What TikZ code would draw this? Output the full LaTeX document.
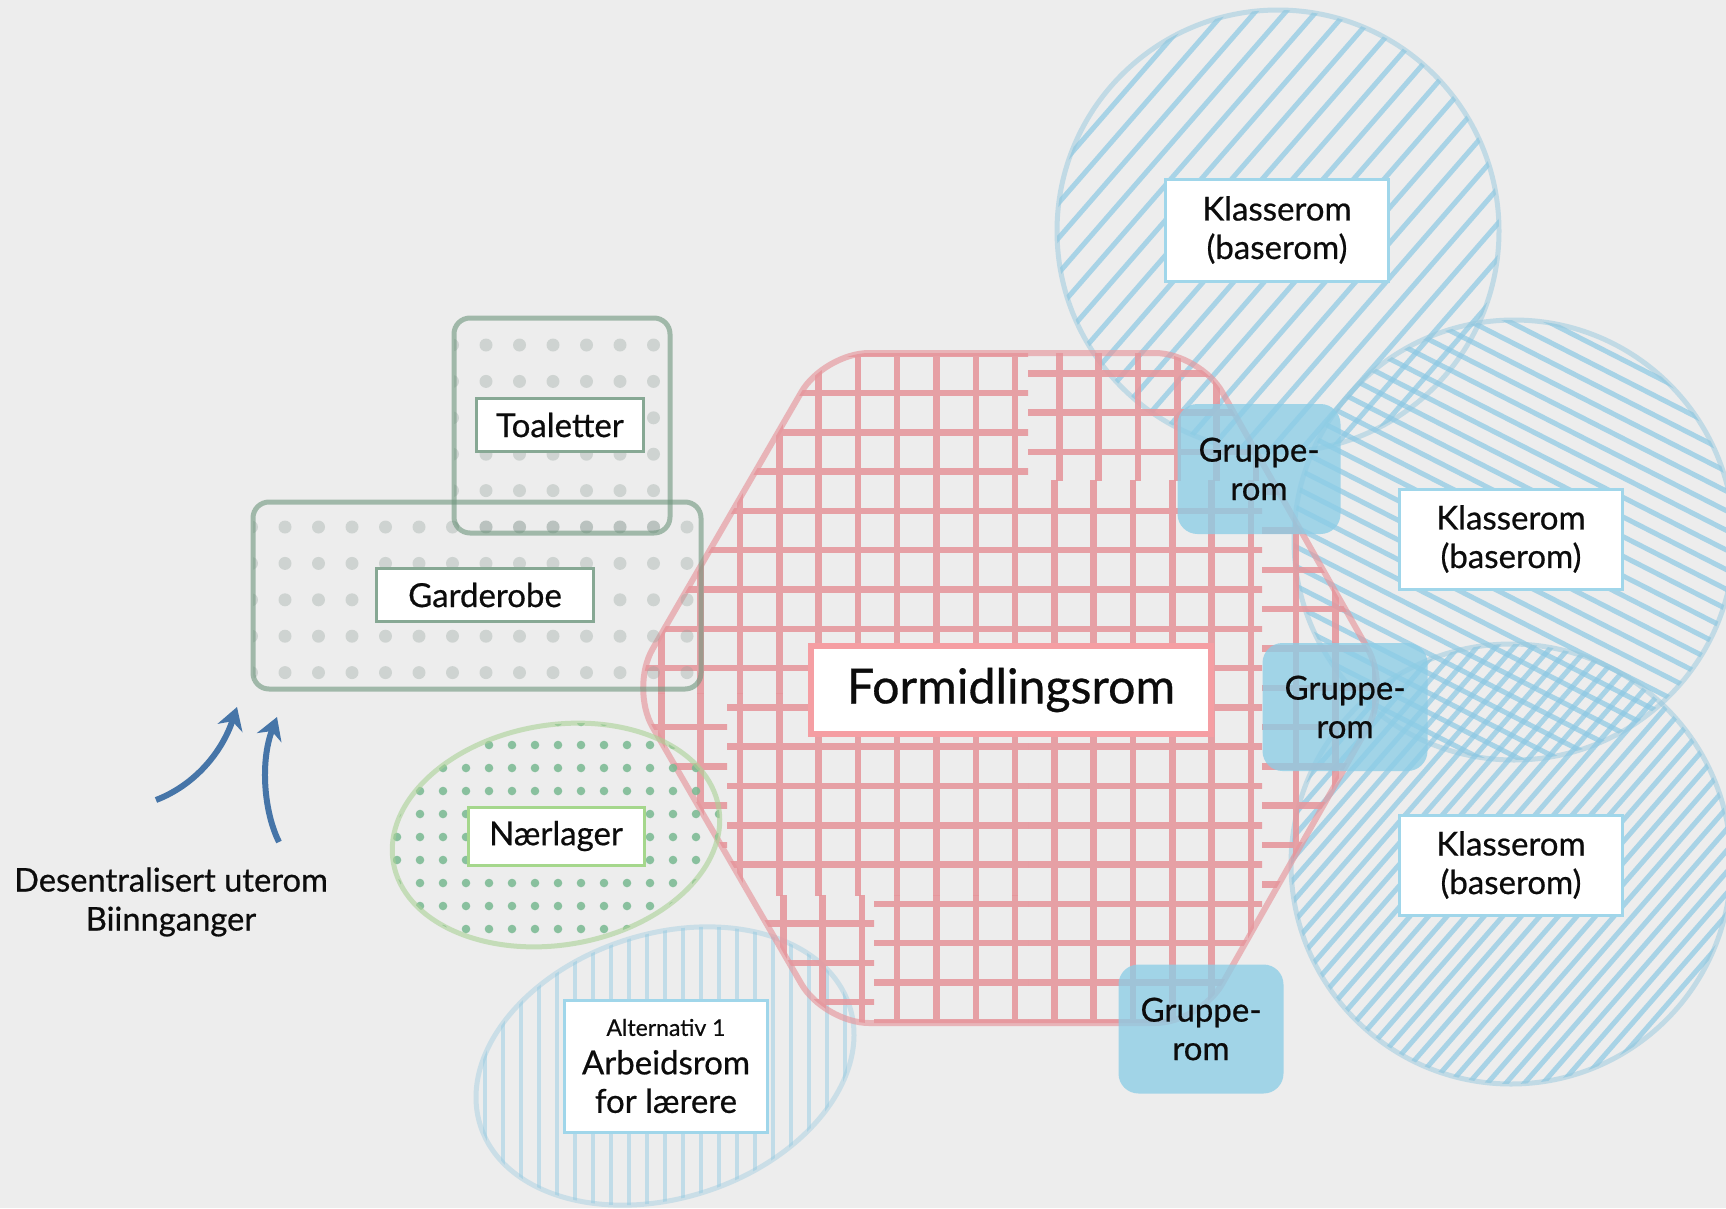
\documentclass[tikz,border=0pt]{standalone}
\usepackage{fontspec}
\setmainfont{Lato}
\newfontfamily\medfont{Lato}[FakeBold=0.6]
\usetikzlibrary{arrows.meta}

\definecolor{bg}{RGB}{237,237,237}
\definecolor{gridpink}{RGB}{230,150,156}
\definecolor{formedge}{RGB}{245,158,163}
\definecolor{hatchblue}{RGB}{140,200,228}
\definecolor{diskblue}{RGB}{150,200,222}
\definecolor{gruppefill}{RGB}{140,205,230}
\definecolor{lblblue}{RGB}{160,214,234}
\definecolor{boxgreen}{RGB}{110,150,125}
\definecolor{dotgray}{RGB}{150,165,158}
\definecolor{tlbl}{RGB}{135,168,148}
\definecolor{naergreen}{RGB}{170,210,150}
\definecolor{naerdot}{RGB}{120,185,145}
\definecolor{naerlbl}{RGB}{165,215,140}
\definecolor{arrowblue}{RGB}{70,117,168}
\definecolor{ink}{RGB}{12,12,12}

\newcommand\lblfont{\medfont\fontsize{33}{38.5}\selectfont}
\newcommand\formfont{\medfont\fontsize{48.3}{52}\selectfont}
\newcommand\altfont{\medfont\fontsize{23}{26}\selectfont}
\newcommand\descfont{\medfont\fontsize{32.7}{39}\selectfont}

% hatched disc: centre x, centre y, radius, hatch angle, hatch spacing
\newcommand\hatchdisk[5]{%
  \begin{scope}
    \clip (#1,#2) circle[radius=#3];
    \begin{scope}[shift={(#1,#2)}, rotate=#4]
      \draw[hatchline] \foreach \k in {-22,...,22}{ (-260,\k*#5) -- (260,\k*#5) };
    \end{scope}
  \end{scope}
  \draw[diskedge] (#1,#2) circle[radius=#3];
}

% one tile of the square grid: x0, y0, x1, y1, x offset, y offset
\newcommand\pgridblock[6]{%
  \begin{scope}
    \clip (#1,#2) rectangle (#3,#4);
    \draw[gridline]
      \foreach \k in {-3,...,17}{ ({740+#5+\k*39.3},330) -- ({740+#5+\k*39.3},1050) }
      \foreach \k in {-2,...,17}{ (600,{393+#6+\k*39.3}) -- (1420,{393+#6+\k*39.3}) };
  \end{scope}
}

\begin{document}
\begin{tikzpicture}[x=1pt,y=-1pt,
  hatchline/.style={draw=hatchblue, line width=5pt, opacity=0.7},
  diskedge/.style={draw=diskblue, line width=5pt, opacity=0.5},
  arbline/.style={draw=hatchblue, line width=4.5pt, opacity=0.45},
  arbedge/.style={draw=diskblue, line width=5pt, opacity=0.4},
  gridline/.style={draw=gridpink, line width=6.5pt, opacity=0.88},
  hexedge/.style={draw=gridpink, line width=6pt, opacity=0.65},
  boxedge/.style={draw=boxgreen, line width=5pt, opacity=0.6},
  graydot/.style={fill=dotgray, opacity=0.35},
  greendot/.style={fill=naerdot, opacity=0.85},
  naeredge/.style={draw=naergreen, line width=5pt, opacity=0.6},
  gruppe/.style={fill=gruppefill, fill opacity=0.78, rounded corners=20pt,
    text=ink, text opacity=1, align=center, inner sep=0pt, font=\lblfont},
  lbl/.style={fill=white, draw=#1, line width=3pt, text=ink, align=center,
    inner sep=0pt, font=\lblfont},
  arr/.style={draw=arrowblue, line width=6pt,
    -{Stealth[length=22pt, width=26pt, inset=7pt]}}
]
\useasboundingbox (0,0) rectangle (1726,1208);
\fill[bg] (0,0) rectangle (1726,1208);

% classrooms (hatched discs)
\hatchdisk{1278}{231}{221}{49}{23}
\hatchdisk{1514}{540}{220}{-27}{17.5}
\hatchdisk{1511}{864}{220}{49}{14}

% teachers' workroom (vertically hatched ellipse)
\begin{scope}
  \clip[rotate around={18:(665,1066)}] (665,1066) ellipse[x radius=194, y radius=132];
  \draw[arbline] \foreach \k in {-13,...,13}{ ({665+\k*18},850) -- ({665+\k*18},1280) };
\end{scope}
\draw[arbedge, rotate around={18:(665,1066)}] (665,1066) ellipse[x radius=194, y radius=132];

% central hall: rounded hexagon filled with a tiled grid
\begin{scope}
  \clip[rounded corners=45pt] (824,353) -- (1200,353) -- (1390,688) -- (1200,1023)
    -- (824,1023) -- (630,688) -- cycle;
  \pgridblock{600}{330}{1028}{693}{0}{0}
  \pgridblock{1028}{480}{1262}{1050}{0}{0}
  \pgridblock{727}{693}{1028}{895}{0}{0}
  \pgridblock{874}{895}{1028}{1050}{0}{0}
  \pgridblock{1028}{330}{1420}{480}{5}{19.65}
  \pgridblock{1262}{480}{1420}{1050}{6}{19.65}
  \pgridblock{600}{693}{727}{1050}{0}{19.65}
  \pgridblock{727}{895}{874}{1050}{4}{19.65}
\end{scope}
\draw[hexedge, rounded corners=45pt] (824,353) -- (1200,353) -- (1390,688) -- (1200,1023)
  -- (824,1023) -- (630,688) -- cycle;

% cloakroom and toilets (dotted boxes)
\begin{scope}
  \clip[rounded corners=16pt] (253,502) rectangle (701,689);
  \fill[graydot] \foreach \i in {-1,...,13}{ \foreach \j in {4,...,9}{ ({285+\i*33.5},{345+\j*36.4}) circle[radius=6.5] } };
\end{scope}
\draw[boxedge, rounded corners=16pt] (253,502) rectangle (701,689);
\begin{scope}
  \clip[rounded corners=16pt] (454,318) rectangle (670,533);
  \fill[graydot] \foreach \i in {4,...,12}{ \foreach \j in {0,...,5}{ ({285+\i*33.5},{345+\j*36.4}) circle[radius=6.5] } };
\end{scope}
\draw[boxedge, rounded corners=16pt] (454,318) rectangle (670,533);

% local storage (dotted ellipse)
\begin{scope}
  \clip[rotate around={9.5:(556,835)}] (556,835) ellipse[x radius=165, y radius=110];
  \fill[greendot] \foreach \i in {-2,...,14}{ \foreach \j in {-2,...,10}{ ({420+\i*23},{745+\j*23}) circle[radius=4.3] } };
\end{scope}
\draw[naeredge, rotate around={9.5:(556,835)}] (556,835) ellipse[x radius=165, y radius=110];

% group rooms
\node[gruppe, minimum width=163pt, minimum height=130pt] (g1) at (1259,469) {Gruppe-\\rom};
\node[gruppe, minimum width=165pt, minimum height=128pt] (g2) at (1345,707) {Gruppe-\\rom};
\node[gruppe, minimum width=165pt, minimum height=129pt] (g3) at (1201,1029) {Gruppe-\\rom};

% labels
\node[lbl=lblblue, minimum width=223pt, minimum height=102pt] (k1) at (1277,230) {Klasserom\\(baserom)};
\node[lbl=lblblue, minimum width=223pt, minimum height=100pt] (k2) at (1511,539) {Klasserom\\(baserom)};
\node[lbl=lblblue, minimum width=223pt, minimum height=100pt] (k3) at (1511,865) {Klasserom\\(baserom)};
\node[lbl=formedge, line width=6pt, minimum width=400pt, minimum height=88pt, font=\formfont] (form) at (1011,690) {Formidlingsrom};
\node[lbl=tlbl, minimum width=167pt, minimum height=53pt] (toa) at (560,425) {Toaletter};
\node[lbl=tlbl, minimum width=217pt, minimum height=53pt] (gard) at (485,595) {Garderobe};
\node[lbl=naerlbl, minimum width=176pt, minimum height=58pt] (naer) at (556,836) {Nærlager};
\node[lbl=lblblue, minimum width=203pt, minimum height=132pt] (arb) at (666,1066)
  {{\altfont Alternativ 1}\\Arbeidsrom\\for lærere};

% entrances
\coordinate (a1s) at (156,800);
\coordinate (a1e) at (237,707);
\coordinate (a2s) at (279,842);
\coordinate (a2e) at (277,717);
\draw[arr] (a1s) .. controls (195,785) and (222,752) .. (a1e);
\draw[arr] (a2s) .. controls (264,812) and (260,762) .. (a2e);
\node[align=center, text=ink, font=\descfont, inner sep=0pt] (desc) at (171,902)
  {Desentralisert uterom\\Biinnganger};
\end{tikzpicture}
\end{document}
